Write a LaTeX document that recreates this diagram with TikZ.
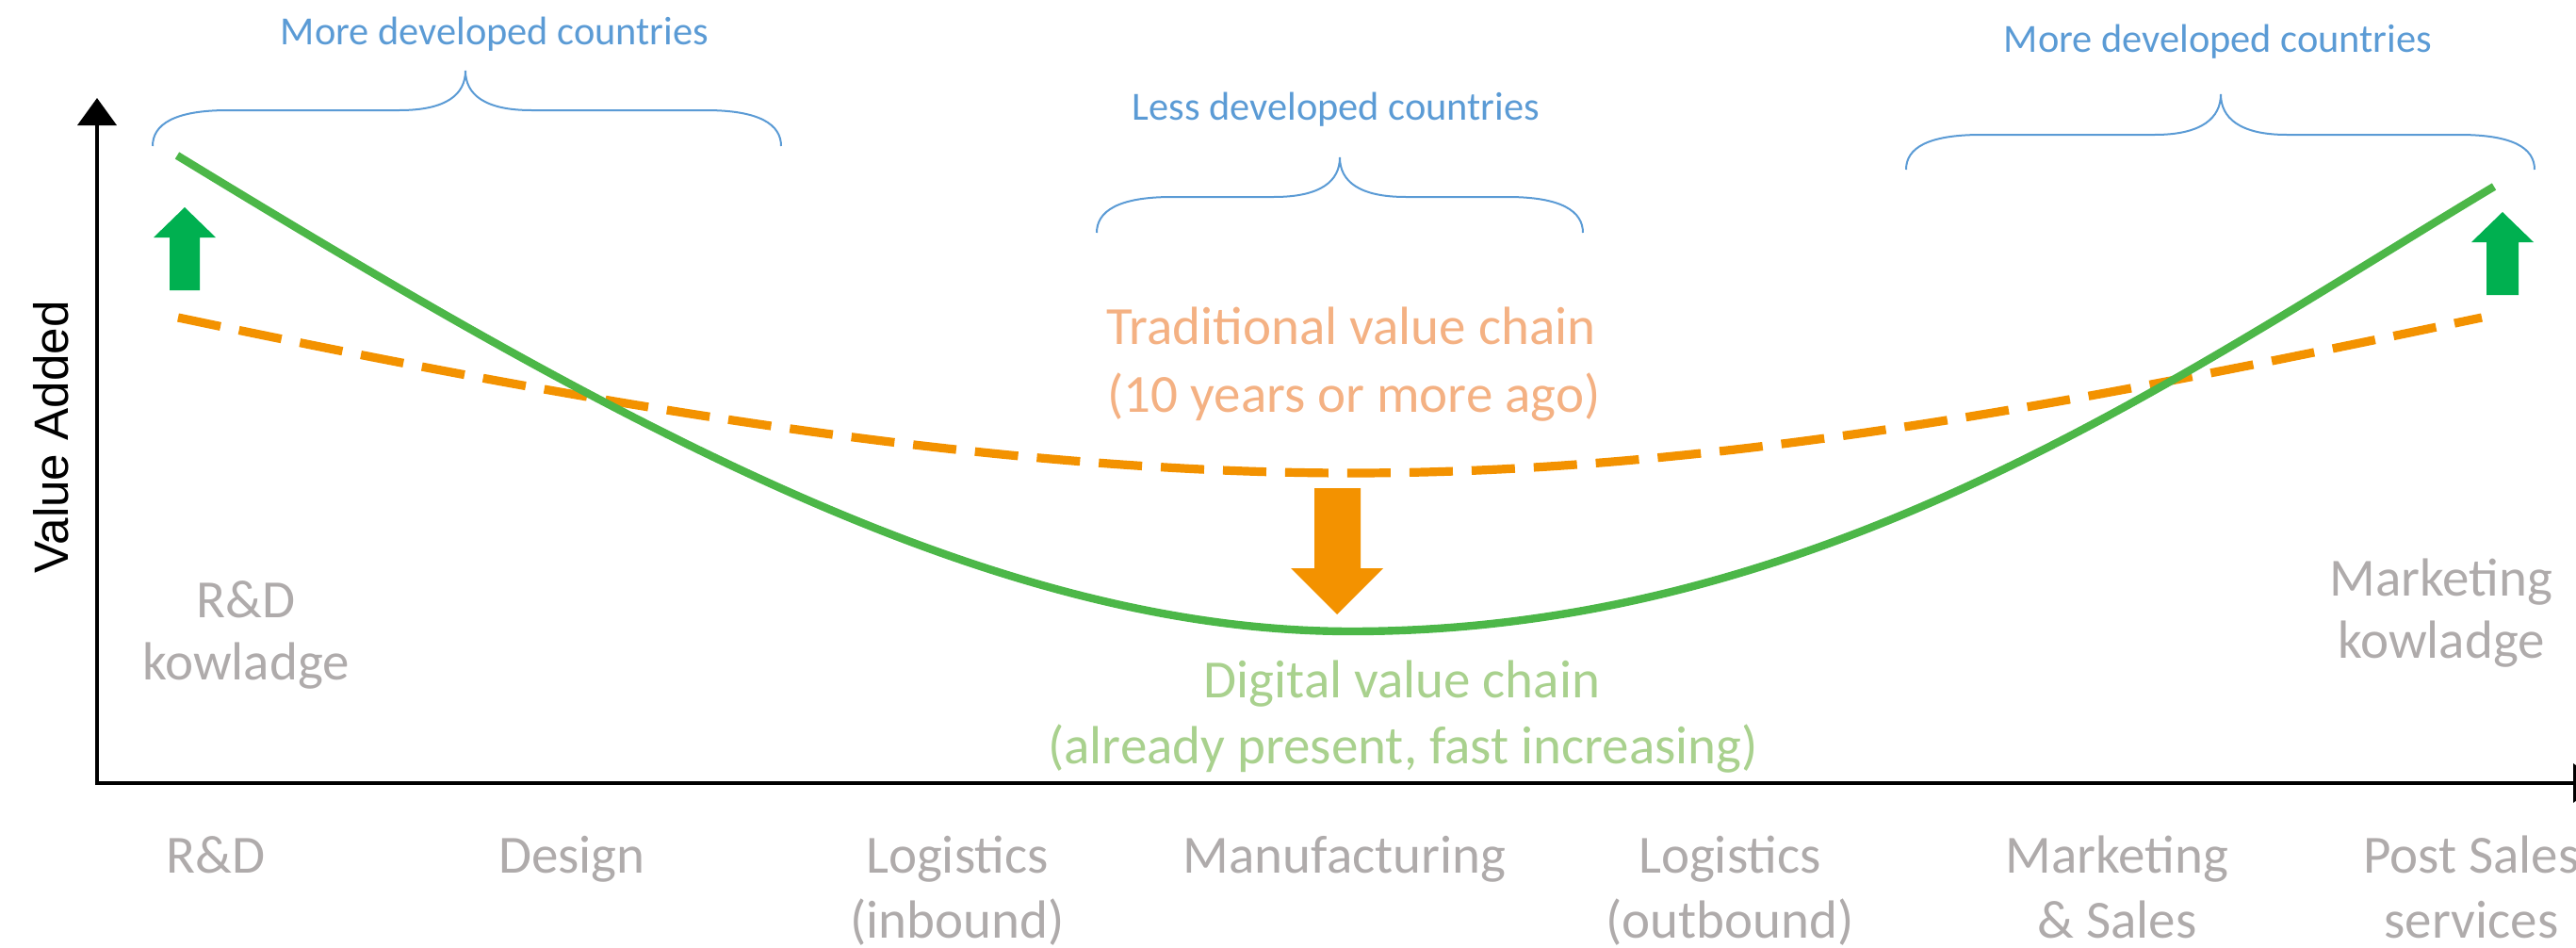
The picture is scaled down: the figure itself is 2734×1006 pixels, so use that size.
\documentclass[tikz,border=0pt]{standalone}
\usepackage{fontspec}
\setmainfont{Carlito}
\newfontfamily\arialfont{Liberation Sans}
\usetikzlibrary{arrows.meta}
\definecolor{lblgray}{HTML}{AFABAB}
\definecolor{bluetxt}{HTML}{5B9BD5}
\definecolor{oratxt}{HTML}{F4B183}
\definecolor{grntxt}{HTML}{A9D18E}
\definecolor{grnline}{HTML}{4CB748}
\definecolor{grnarrow}{HTML}{00B050}
\definecolor{oraline}{HTML}{F39200}
\begin{document}
\begin{tikzpicture}[x=0.25pt,y=-0.25pt,
  lbl/.style={anchor=base, text=lblgray, inner sep=0pt, font=\fontsize{14.25}{17}\selectfont},
  blutext/.style={anchor=base, text=bluetxt, inner sep=0pt, font=\fontsize{10.6}{13}\selectfont},
  oratext/.style={anchor=base, text=oratxt, inner sep=0pt, font=\fontsize{14.25}{17}\selectfont},
  grntext/.style={anchor=base, text=grntxt, inner sep=0pt, font=\fontsize{14.25}{17}\selectfont},
  axisline/.style={draw=black, line width=1pt},
  axtip/.style={-{Triangle[length=7.25pt,width=10.25pt]}},
  bracestyle/.style={draw=bluetxt, line width=0.5pt},
  orangeline/.style={draw=oraline, line width=2.3pt, dash pattern=on 11.5pt off 5pt},
  greenline/.style={draw=grnline, line width=2.1pt},
  uparrow/.style={fill=grnarrow, draw=none},
  downarrow/.style={fill=oraline, draw=none}]
\useasboundingbox (0,0) rectangle (2734,1006);

% axes
\coordinate (O) at (103,831);
\coordinate (ytip) at (103,104);
\coordinate (xtip) at (2760,831);
\coordinate (Ob) at (103,833);
\coordinate (Ol) at (101,831);
\draw[axisline,axtip] (Ob) -- (ytip);
\draw[axisline,axtip] (Ol) -- (xtip);
\node[anchor=base, rotate=90, inner sep=0pt, font=\arialfont\fontsize{12.8}{15}\selectfont] (ylab) at (72,464) {Value Added};

% braces
\draw[bracestyle] (162,155) .. controls (162,132) and (185,117) .. (242,117) -- (424,117)
  .. controls (474,117) and (494,100) .. (494,75) .. controls (494,100) and (514,117) .. (564,117)
  -- (749,117) .. controls (806,117) and (829,132) .. (829,155);
\draw[bracestyle] (1164,247) .. controls (1164,224) and (1187,209) .. (1244,209) -- (1352,209)
  .. controls (1402,209) and (1422,192) .. (1422,167) .. controls (1422,192) and (1442,209) .. (1492,209)
  -- (1600,209) .. controls (1657,209) and (1680,224) .. (1680,247);
\draw[bracestyle] (2023,180) .. controls (2023,157) and (2046,143) .. (2103,143) -- (2287,143)
  .. controls (2337,143) and (2357,125) .. (2357,100) .. controls (2357,125) and (2377,143) .. (2427,143)
  -- (2610,143) .. controls (2667,143) and (2690,157) .. (2690,180);

\node[blutext] (mdc1) at (525,48) {More developed countries};
\node[blutext] (ldc) at (1418,127) {Less developed countries};
\node[blutext] (mdc2) at (2354,55) {More developed countries};

% curves
\draw[orangeline] (189,337) .. controls (589,421) and (1034,502) .. (1434,502)
  .. controls (1834,502) and (2234,421) .. (2634,337);
\draw[greenline] (188,165) .. controls (650,447) and (1050,670) .. (1434,670)
  .. controls (1934,670) and (2310,400) .. (2647,198);

% block arrows
\fill[uparrow] (180,308) -- (180,252) -- (163,252) -- (196,220) -- (229,252) -- (212,252) -- (212,308) -- cycle;
\fill[uparrow] (2639,313) -- (2639,257) -- (2623,257) -- (2656,225) -- (2689,257) -- (2673,257) -- (2673,313) -- cycle;
\fill[downarrow] (1395,518) -- (1444,518) -- (1444,603) -- (1468,603) -- (1419,652) -- (1370,603) -- (1395,603) -- cycle;

% chain labels
\node[oratext] (trad1) at (1434,365) {Traditional value chain};
\node[oratext] (trad2) at (1437,437) {(10 years or more ago)};
\node[grntext] (dig1) at (1488,740) {Digital value chain};
\node[grntext] (dig2) at (1489,810) {(already present, fast increasing)};

% knowledge labels
\node[lbl] (rdk1) at (261,655) {R\&D};
\node[lbl] (rdk2) at (261,721) {kowladge};
\node[lbl] (mk1) at (2591,632) {Marketing};
\node[lbl] (mk2) at (2591,698) {kowladge};

% x-axis labels
\node[lbl] (x1) at (229,926) {R\&D};
\node[lbl] (x2) at (607,926) {Design};
\node[lbl] (x3a) at (1016,926) {Logistics};
\node[lbl] (x3b) at (1016,995) {(inbound)};
\node[lbl] (x4) at (1427,926) {Manufacturing};
\node[lbl] (x5a) at (1836,926) {Logistics};
\node[lbl] (x5b) at (1836,995) {(outbound)};
\node[lbl] (x6a) at (2247,926) {Marketing};
\node[lbl] (x6b) at (2247,995) {\& Sales};
\node[lbl] (x7a) at (2623,926) {Post Sales};
\node[lbl] (x7b) at (2623,995) {services};
\end{tikzpicture}
\end{document}
